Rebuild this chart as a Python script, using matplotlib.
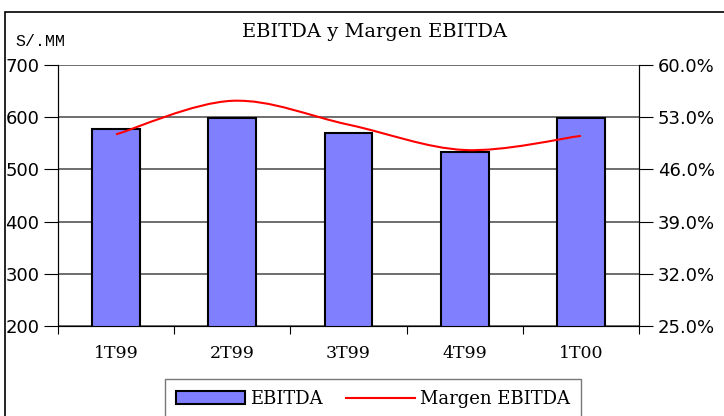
import matplotlib.pyplot as plt
import numpy as np
from matplotlib.path import Path
from matplotlib.patches import PathPatch, Rectangle
from matplotlib.lines import Line2D

trimestres = ['1T99', '2T99', '3T99', '4T99', '1T00']
ebitda = [577, 598, 570, 533, 598]          # S/.MM
margen = [50.7, 55.2, 52.0, 48.6, 50.5]     # %

fig = plt.figure(figsize=(7.24, 4.16), dpi=100)
ax = fig.add_axes([58/724, 1-326/416, (639-58)/724, (326-65)/416])

x = np.arange(len(trimestres))
ax.bar(x, ebitda, width=0.41, color='#8080ff', edgecolor='black', linewidth=1.5, zorder=3)
ax.set_ylim(200, 700)
ax.set_xlim(-0.5, 4.5)
ax.set_yticks(range(200, 701, 100))
ax.yaxis.grid(True, color='#555555', linewidth=1.2, zorder=0)
ax.set_xticks(np.arange(-0.5, 4.6, 1))
ax.set_xticklabels([])
ax.set_xticks(x, minor=True)
ax.set_xticklabels(trimestres, minor=True, family='DejaVu Serif', fontsize=12.5)
ax.tick_params(axis='x', which='minor', length=0, pad=14)
ax.tick_params(axis='x', which='major', length=6, color='black')
ax.tick_params(axis='y', length=10, labelsize=13)
ax.spines['top'].set_visible(False)
ax.spines['bottom'].set_color('#555555')

ax2 = ax.twinx()
ax2.set_ylim(25, 60)
ax2.set_yticks(np.arange(25, 60.1, 7))
ax2.set_yticklabels(['%.1f%%' % v for v in np.arange(25, 60.1, 7)], fontsize=13)
ax2.tick_params(axis='y', length=10)
ax2.spines['top'].set_visible(False)

# curva suavizada tipo Excel (bezier entre los puntos)
px = np.array(x, dtype=float)
py = np.array(margen, dtype=float)
verts = [(px[0], py[0])]
codes = [Path.MOVETO]
n = len(px)
for i in range(n - 1):
    p0 = (px[max(i-1, 0)], py[max(i-1, 0)])
    p1 = (px[i], py[i])
    p2 = (px[i+1], py[i+1])
    p3 = (px[min(i+2, n-1)], py[min(i+2, n-1)])
    c1 = (p1[0] + (p2[0]-p0[0])/6, p1[1] + (p2[1]-p0[1])/6)
    c2 = (p2[0] - (p3[0]-p1[0])/6, p2[1] - (p3[1]-p1[1])/6)
    verts += [c1, c2, p2]
    codes += [Path.CURVE4] * 3
ax2.add_patch(PathPatch(Path(verts, codes), facecolor='none', edgecolor='red',
                        linewidth=1.5, zorder=5))

fig.text(375/724, 1-32/416, 'EBITDA y Margen EBITDA', ha='center', va='center',
         family='DejaVu Serif', fontsize=14)
fig.text(15/724, 1-42/416, 'S/.MM', ha='left', va='center',
         family='Liberation Mono', fontsize=12)

handles = [Rectangle((0, 0), 1, 1, facecolor='#8080ff', edgecolor='black', linewidth=1.5),
           Line2D([0], [0], color='red', linewidth=1.5)]
leg = fig.legend(handles, ['EBITDA', 'Margen EBITDA'], loc='upper center',
                 bbox_to_anchor=(373/724, 1-379/416), borderaxespad=0, ncol=2, frameon=True,
                 fancybox=False, edgecolor='#555555', prop={'family': 'DejaVu Serif', 'size': 13},
                 handlelength=3.8, handletextpad=0.3, columnspacing=1.3, borderpad=0.6)

fig.patches.append(Rectangle((5/724, -0.1), 1.2, 1-12/416+0.1, transform=fig.transFigure,
                             facecolor='none', edgecolor='black', linewidth=1.2))

fig.savefig('out.png', dpi=100)
